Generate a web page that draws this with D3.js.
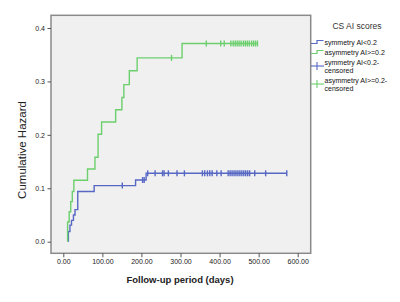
<!DOCTYPE html>
<html><head><meta charset="utf-8">
<script src="https://cdn.jsdelivr.net/npm/d3@7"></script>
<style>body{margin:0;background:#fff}svg{display:block;font-family:Arial,"Liberation Sans",sans-serif}</style>
</head><body><svg id="c" width="400" height="302"></svg>
<script>
// Data
const xTicks = [0, 100, 200, 300, 400, 500, 600];
const yTicks = [0.0, 0.1, 0.2, 0.3, 0.4];
const seriesNames = ["symmetry AI<0.2", "asymmetry AI>=0.2"];
const censorNames = ["symmetry AI<0.2-|censored", "asymmetry AI>=0.2-|censored"];
const legendTitle = "CS AI scores";
const xTitle = "Follow-up period (days)";
const yTitle = "Cumulative Hazard";

const blueTimes  = [13, 13, 17, 21, 26, 30, 37, 79, 185, 212, 572];
const blueHazard = [0, 0.019, 0.031, 0.040, 0.050, 0.060, 0.094, 0.105, 0.1155, 0.128, 0.128];
const blueCensor = [151, 203, 207, 216, 235, 254, 258, 269, 291, 310, 356, 362, 369, 375, 381, 393, 404,
  422, 427, 432, 437, 442, 447, 452, 457, 462, 467, 472, 477, 490, 518, 572];

const greenTimes  = [11, 11, 15, 19, 23, 27, 62, 81, 89, 98, 134, 150, 155, 169, 189, 304, 497];
const greenHazard = [0, 0.037, 0.056, 0.075, 0.094, 0.115, 0.136, 0.158, 0.201, 0.224, 0.247, 0.270, 0.294, 0.320, 0.344, 0.371, 0.371];
const greenCensor = [277, 366, 403, 412, 429, 435, 440, 445, 450, 455, 461, 466, 471, 476, 482, 487, 492, 497];

const colors = ["#5667c4", "#6ccf6e"];

const svg = d3.select("#c");
const frame = {l: 51, t: 15.3, r: 310.7, b: 253.3};
const x = d3.scaleLinear().domain([0, 600]).range([63.3, 297.7]);
const y = d3.scaleLinear().domain([0, 0.4]).range([241.7, 28]);

svg.append("rect").attr("x", frame.l).attr("y", frame.t)
  .attr("width", frame.r - frame.l).attr("height", frame.b - frame.t)
  .attr("fill", "#f0f0f0").attr("stroke", "#8a8a8a").attr("stroke-width", 1.5);

// axes
const xAxis = d3.axisBottom(x).tickValues(xTicks).tickFormat(d3.format(".2f")).tickSize(4).tickSizeOuter(0);
const gx = svg.append("g").attr("transform", `translate(0,${frame.b})`).call(xAxis);
gx.select(".domain").remove();
gx.selectAll("line").attr("stroke", "#555");
gx.selectAll("text").attr("font-size", 7).attr("fill", "#222").attr("dy", "0.9em").attr("y", 4);

const yAxis = d3.axisLeft(y).tickValues(yTicks).tickFormat(d3.format(".1f")).tickSize(3.5).tickSizeOuter(0);
const gy = svg.append("g").attr("transform", `translate(${frame.l},0)`).call(yAxis);
gy.select(".domain").remove();
gy.selectAll("line").attr("stroke", "#555");
gy.selectAll("text").attr("font-size", 7).attr("fill", "#222").attr("x", -6);

function stepAt(times, haz, t) {
  let v = haz[0];
  for (let i = 0; i < times.length; i++) if (times[i] <= t) v = haz[i];
  return v;
}

const line = d3.line().x(d => x(d[0])).y(d => y(d[1])).curve(d3.curveStepAfter);
const series = [
  {times: blueTimes, haz: blueHazard, cens: blueCensor, color: colors[0]},
  {times: greenTimes, haz: greenHazard, cens: greenCensor, color: colors[1]}
];
series.forEach(s => {
  const pts = s.times.map((t, i) => [t, s.haz[i]]);
  svg.append("path").datum(pts).attr("d", line).attr("fill", "none")
    .attr("stroke", s.color).attr("stroke-width", 1.4);
  svg.append("g").selectAll("line").data(s.cens).join("line")
    .attr("x1", d => x(d)).attr("x2", d => x(d))
    .attr("y1", d => y(stepAt(s.times, s.haz, d)) - 3)
    .attr("y2", d => y(stepAt(s.times, s.haz, d)) + 3)
    .attr("stroke", s.color).attr("stroke-width", 1.4);
});

// titles
svg.append("text").attr("x", 180).attr("y", 283).attr("text-anchor", "middle")
  .attr("font-size", 9.5).attr("font-weight", "bold").attr("fill", "#222").text(xTitle);
svg.append("text").attr("transform", "translate(26,150) rotate(-90)").attr("text-anchor", "middle")
  .attr("font-size", 11.5).attr("fill", "#222").text(yTitle);

// legend
const lg = svg.append("g");
lg.append("text").attr("x", 357).attr("y", 29).attr("text-anchor", "middle")
  .attr("font-size", 8.5).attr("fill", "#333").text(legendTitle);
const stepY = [43.5, 53.5];
seriesNames.forEach((n, i) => {
  const yy = stepY[i];
  lg.append("path").attr("d", `M311,${yy}H317V${yy-3}H323.5`).attr("fill", "none")
    .attr("stroke", colors[i]).attr("stroke-width", 1.2);
  lg.append("text").attr("x", 324.5).attr("y", yy - 1.5).attr("dominant-baseline", "central")
    .attr("font-size", 7).attr("fill", "#111").text(n);
});
const censY = [66, 84];
censorNames.forEach((n, i) => {
  const yy = censY[i];
  lg.append("line").attr("x1", 311).attr("x2", 324).attr("y1", yy).attr("y2", yy)
    .attr("stroke", colors[i]).attr("stroke-width", 1.1);
  lg.append("line").attr("x1", 317).attr("x2", 317).attr("y1", yy - 4).attr("y2", yy + 4)
    .attr("stroke", colors[i]).attr("stroke-width", 1.1);
  const parts = n.split("|");
  parts.forEach((p, j) => {
    lg.append("text").attr("x", 324.5).attr("y", yy - 3.8 + j * 7.8).attr("dominant-baseline", "central")
      .attr("font-size", 7).attr("fill", "#111").text(p);
  });
});
</script></body></html>
